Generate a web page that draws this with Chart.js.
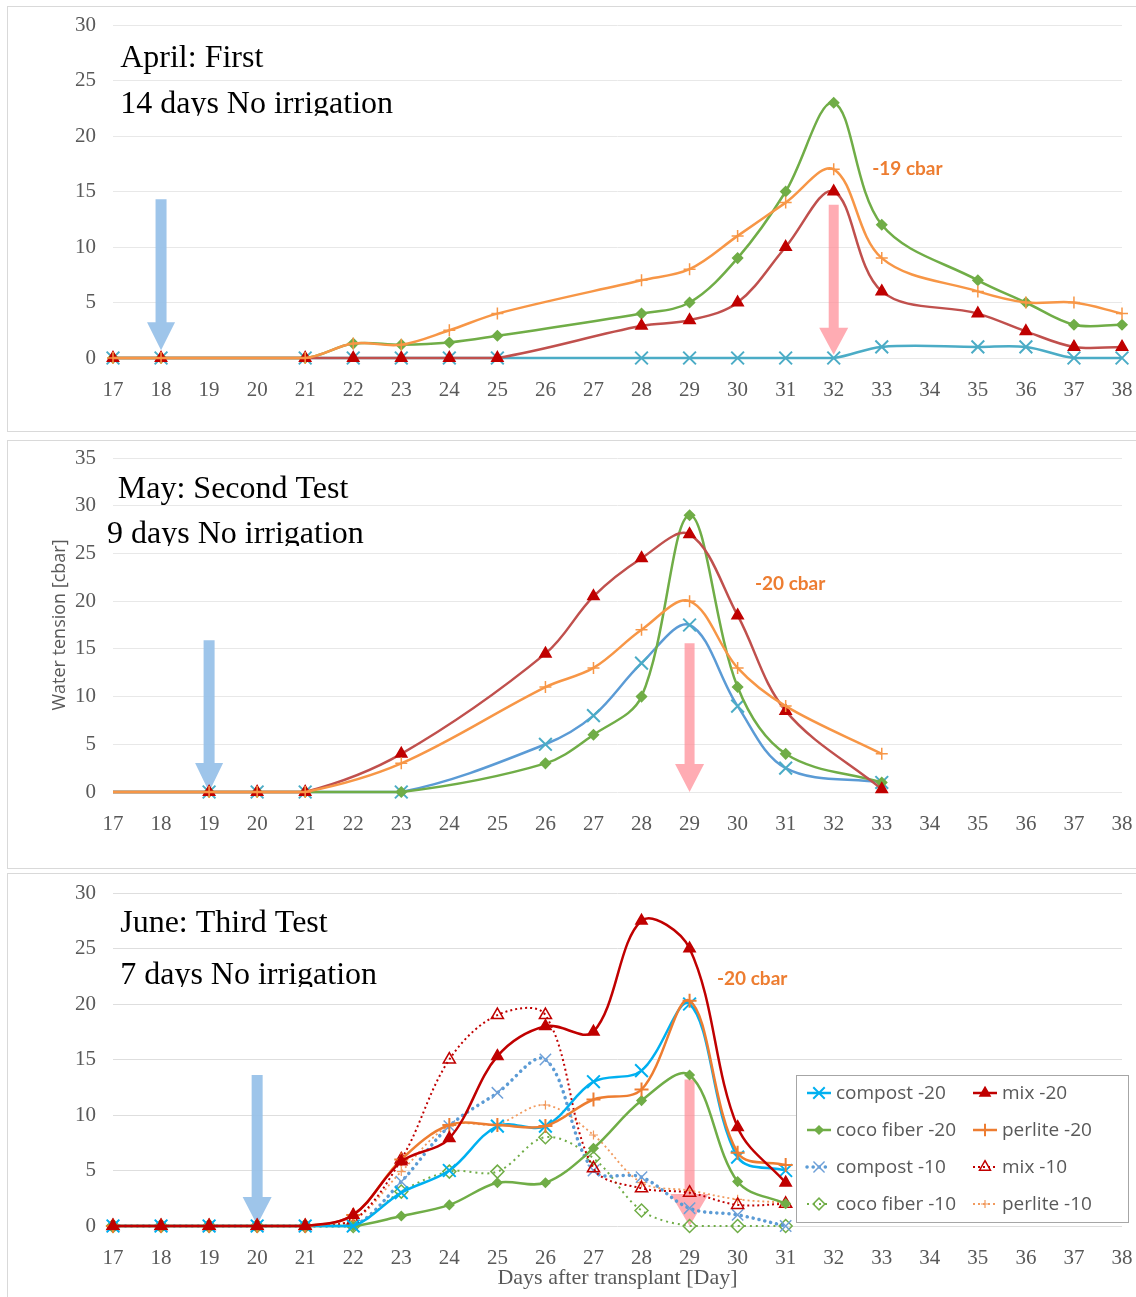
<!DOCTYPE html>
<html lang="en">
<head>
<meta charset="utf-8">
<title>Water tension after transplant</title>
<script src="https://cdn.jsdelivr.net/npm/chart.js@4.4.1/dist/chart.umd.min.js"></script>
<style>
  html, body { margin: 0; padding: 0; background: #fff; }
  body { position: relative; width: 1136px; height: 1297px; overflow: hidden; }
  .frame { position: absolute; left: 7px; width: 1140px; border: 1px solid #d9d9d9; box-sizing: border-box; }
  canvas { position: absolute; left: 0; }
</style>
</head>
<body>
<div class="frame" style="top:6px;height:426px"></div>
<div class="frame" style="top:440px;height:429px"></div>
<div class="frame" style="top:873px;height:430px"></div>
<canvas id="april" width="1136" height="433" style="top:0"></canvas>
<canvas id="may" width="1136" height="428" style="top:440px"></canvas>
<canvas id="june" width="1136" height="424" style="top:873px"></canvas>
<script>
// 横轴范围（移栽后天数）
const dayMin = 17;
const dayMax = 38;

// 4月：第一次试验
const aprilDays = [17, 18, 21, 22, 23, 24, 25, 28, 29, 30, 31, 32, 33, 35, 36, 37, 38];
const aprilCompost = [0, 0, 0, 0, 0, 0, 0, 0, 0, 0, 0, 0, 1, 1, 1, 0, 0];
const aprilCoco = [0, 0, 0, 1.3, 1.2, 1.4, 2, 4, 5, 9, 15, 23, 12, 7, 5, 3, 3];
const aprilMix = [0, 0, 0, 0, 0, 0, 0, 2.9, 3.4, 5, 10, 15, 6, 4, 2.4, 1, 1];
const aprilPerlite = [0, 0, 0, 1.3, 1.2, 2.5, 4, 7, 8, 11, 14, 17, 9, 6, 5, 5, 4];

// 5月：第二次试验
const mayDays = [17, 19, 20, 21, 23, 26, 27, 28, 29, 30, 31, 33];
const mayCompost = [0, 0, 0, 0, 0, 5, 8, 13.5, 17.5, 9, 2.5, 1];
const mayCoco = [0, 0, 0, 0, 0, 3, 6, 10, 29, 11, 4, 1];
const mayMix = [0, 0, 0, 0, 4, 14.5, 20.5, 24.5, 27, 18.5, 8.5, 0.3];
const mayPerlite = [0, 0, 0, 0, 3, 11, 13, 17, 20, 13, 9, 4];

// 6月：第三次试验
const juneDays = [17, 18, 19, 20, 21, 22, 23, 24, 25, 26, 27, 28, 29, 30, 31];
const juneCompost20 = [0, 0, 0, 0, 0, 0, 3, 5, 9, 9, 13, 14, 20, 6.2, 5];
const juneMix20 = [0, 0, 0, 0, 0, 1, 5.8, 7.9, 15.3, 18, 17.5, 27.5, 25, 8.9, 3.9];
const juneCoco20 = [0, 0, 0, 0, 0, 0, 0.9, 1.9, 3.9, 3.9, 7, 11.3, 13.6, 4, 2];
const junePerlite20 = [0, 0, 0, 0, 0, 1, 6, 9.1, 9.1, 9, 11.4, 12.3, 20.3, 6.6, 5.5];
const juneCompost10 = [0, 0, 0, 0, 0, 0, 4, 9, 12, 15, 5, 4.4, 1.6, 1, 0];
const juneMix10 = [0, 0, 0, 0, 0, 0.5, 6, 15, 19, 19, 5.2, 3.4, 3, 1.9, 2];
const juneCoco10 = [0, 0, 0, 0, 0, 0, 3.1, 4.9, 4.9, 8, 6.1, 1.4, 0, 0, 0];
const junePerlite10 = [0, 0, 0, 0, 0, 0.5, 4.9, 9, 9.2, 10.9, 8.2, 3.9, 3.2, 2.4, 2.1];

const SERIF = '"Liberation Serif", "Times New Roman", serif';
const SANS = '"Open Sans", "Noto Sans", sans-serif';
const GREY = '#595959';

function points(days, values) {
    return days.map((d, i) => ({ x: d, y: values[i] }));
}

// 生成一条折线的数据集
function series(label, days, values, s) {
    const r = s.radius;
    return {
        label: label,
        data: points(days, values),
        borderColor: s.line,
        borderWidth: s.width || 2.5,
        borderDash: s.dash || [],
        borderCapStyle: s.cap || 'butt',
        pointStyle: s.marker,
        pointRadius: s.markFrom ? (c => (c.raw && c.raw.x < s.markFrom ? 0 : r)) : r,
        legendRadius: r,
        pointBorderColor: s.markerColor || s.line,
        pointBackgroundColor: s.fill || s.markerColor || s.line,
        pointBorderWidth: s.markerWidth || 1.5,
        tension: 0.35,
        clip: false,
        order: s.order || 0
    };
}

// 箭头、文字、图例
const decorPlugin = {
    id: 'decor',
    beforeDatasetsDraw(chart, args, opts) {
        const { ctx } = chart;
        const x = chart.scales.x, y = chart.scales.y;
        (opts.arrows || []).forEach(a => {
            const cx = x.getPixelForValue(a.x);
            const top = y.getPixelForValue(a.top);
            const tip = y.getPixelForValue(a.tip);
            const neck = tip - a.headH;
            ctx.save();
            ctx.fillStyle = a.color;
            ctx.beginPath();
            ctx.moveTo(cx - a.shaft / 2, top);
            ctx.lineTo(cx + a.shaft / 2, top);
            ctx.lineTo(cx + a.shaft / 2, neck);
            ctx.lineTo(cx + a.headW / 2, neck);
            ctx.lineTo(cx, tip);
            ctx.lineTo(cx - a.headW / 2, neck);
            ctx.lineTo(cx - a.shaft / 2, neck);
            ctx.closePath();
            ctx.fill();
            ctx.restore();
        });
    },
    afterDraw(chart, args, opts) {
        const { ctx, chartArea } = chart;
        const x = chart.scales.x, y = chart.scales.y;
        (opts.notes || []).forEach(n => {
            const px = x.getPixelForValue(n.x);
            const py = y.getPixelForValue(n.y);
            ctx.save();
            if (n.cut) {
                ctx.beginPath();
                ctx.rect(0, 0, chart.width, py + n.cut);
                ctx.clip();
            }
            ctx.font = n.font;
            ctx.fillStyle = n.color;
            ctx.textAlign = 'left';
            ctx.textBaseline = 'alphabetic';
            ctx.fillText(n.text, px, py);
            ctx.restore();
        });

        const lg = opts.legend;
        if (!lg) return;
        const left = chartArea.right + lg.overRight - lg.width;
        const top = chartArea.bottom - lg.overBottom - lg.height;
        ctx.save();
        ctx.fillStyle = '#ffffff';
        ctx.fillRect(left, top, lg.width, lg.height);
        ctx.strokeStyle = '#a6a6a6';
        ctx.lineWidth = 1;
        ctx.strokeRect(left + 0.5, top + 0.5, lg.width, lg.height);
        chart.data.datasets.forEach((ds, i) => {
            const row = Math.floor(i / 2), col = i % 2;
            const sx = left + lg.colX[col];
            const cy = top + lg.firstRow + row * lg.rowGap;
            ctx.save();
            ctx.strokeStyle = ds.borderColor;
            ctx.lineWidth = ds.borderWidth;
            ctx.lineCap = ds.borderCapStyle;
            ctx.setLineDash(ds.borderDash);
            ctx.beginPath();
            ctx.moveTo(sx, cy);
            ctx.lineTo(sx + lg.sample, cy);
            ctx.stroke();
            ctx.setLineDash([]);
            ctx.fillStyle = ds.pointBackgroundColor;
            ctx.strokeStyle = ds.pointBorderColor;
            ctx.lineWidth = ds.pointBorderWidth;
            if (Chart.helpers && Chart.helpers.drawPoint) {
                Chart.helpers.drawPoint(ctx, {
                    pointStyle: ds.pointStyle,
                    radius: ds.legendRadius * 0.9,
                    rotation: 0,
                    borderWidth: ds.pointBorderWidth
                }, sx + lg.sample / 2, cy);
            }
            ctx.restore();
            ctx.font = lg.font;
            ctx.fillStyle = GREY;
            ctx.textAlign = 'left';
            ctx.textBaseline = 'middle';
            ctx.fillText(ds.label, sx + lg.sample + lg.textGap, cy + 1);
        });
        ctx.restore();
    }
};

function makePanel(id, cfg) {
    const yAxis = {
        min: 0,
        max: cfg.yMax,
        ticks: { stepSize: 5, padding: 17, color: GREY, font: { family: SERIF, size: 21 } },
        grid: { color: cfg.gridColor || '#e8e8e8', drawTicks: false },
        border: { display: false },
        afterFit: s => { s.width = 113; s.paddingTop = 0; s.paddingBottom = 0; }
    };
    if (cfg.yTitle) {
        yAxis.title = {
            display: true,
            text: cfg.yTitle,
            color: GREY,
            font: { family: SANS, size: 18 },
            padding: { top: 49, bottom: 0 }
        };
    }
    const xAxis = {
        type: 'linear',
        min: dayMin,
        max: dayMax,
        ticks: { stepSize: 1, padding: 12, color: GREY, autoSkip: false, maxRotation: 0, font: { family: SERIF, size: 21 } },
        grid: { display: false },
        border: { display: false },
        afterFit: s => { s.height = cfg.xHeight; s.paddingLeft = 0; s.paddingRight = 0; }
    };
    if (cfg.xTitle) {
        xAxis.title = {
            display: true,
            text: cfg.xTitle,
            color: GREY,
            font: { family: SERIF, size: 22 },
            padding: { top: 0, bottom: 6 }
        };
    }
    return new Chart(document.getElementById(id), {
        type: 'line',
        data: { datasets: cfg.datasets },
        options: {
            responsive: false,
            animation: false,
            events: [],
            layout: { padding: { top: cfg.padTop, right: 14, left: 0, bottom: 0 } },
            scales: { x: xAxis, y: yAxis },
            plugins: {
                legend: { display: false },
                tooltip: { enabled: false },
                decor: cfg.decor
            }
        },
        plugins: [decorPlugin]
    });
}

const BLUE_ARROW = 'rgba(150, 192, 232, 0.92)';
const PINK_ARROW = 'rgba(255, 140, 150, 0.72)';
const CBAR = 'bold 19px Lato, "Open Sans", sans-serif';
const TITLE = '32px ' + SERIF;

// 4月
makePanel('april', {
    yMax: 30,
    padTop: 25,
    xHeight: 75,
    datasets: [
        series('compost', aprilDays, aprilCompost, { line: '#4bacc6', marker: 'crossRot', radius: 9, markerWidth: 2, order: 3 }),
        series('coco fiber', aprilDays, aprilCoco, { line: '#70ad47', marker: 'rectRot', radius: 5, order: 2 }),
        series('mix', aprilDays, aprilMix, { line: '#c0504d', markerColor: '#c00000', marker: 'triangle', radius: 6.5, order: 1 }),
        series('perlite', aprilDays, aprilPerlite, { line: '#f79646', marker: 'cross', radius: 6, order: 0 })
    ],
    decor: {
        arrows: [
            { x: 18, top: 14.3, tip: 0.7, shaft: 11, headW: 28, headH: 28, color: BLUE_ARROW },
            { x: 32, top: 13.8, tip: 0.3, shaft: 10, headW: 29, headH: 27, color: PINK_ARROW }
        ],
        notes: [
            { text: 'April: First', x: 17.15, y: 26.2, font: TITLE, color: '#000' },
            { text: '14 days No irrigation', x: 17.15, y: 22.1, font: TITLE, color: '#000', cut: 3 },
            { text: '-19 cbar', x: 32.8, y: 16.5, font: CBAR, color: '#ed7d31' }
        ]
    }
});

// 5月
makePanel('may', {
    yMax: 35,
    padTop: 18,
    xHeight: 76,
    yTitle: 'Water tension [cbar]',
    datasets: [
        series('compost', mayDays, mayCompost, { line: '#5b9bd5', markerColor: '#4bacc6', marker: 'crossRot', radius: 9, markerWidth: 2, markFrom: 19, order: 3 }),
        series('coco fiber', mayDays, mayCoco, { line: '#70ad47', marker: 'rectRot', radius: 5, markFrom: 19, order: 2 }),
        series('mix', mayDays, mayMix, { line: '#c0504d', markerColor: '#c00000', marker: 'triangle', radius: 6.5, markFrom: 19, order: 1 }),
        series('perlite', mayDays, mayPerlite, { line: '#f79646', marker: 'cross', radius: 6, markFrom: 19, order: 0 })
    ],
    decor: {
        arrows: [
            { x: 19, top: 15.9, tip: 0, shaft: 11, headW: 28, headH: 29, color: BLUE_ARROW },
            { x: 29, top: 15.6, tip: 0, shaft: 10, headW: 29, headH: 28, color: PINK_ARROW }
        ],
        notes: [
            { text: 'May: Second Test', x: 17.1, y: 30.8, font: TITLE, color: '#000' },
            { text: '9 days No irrigation', x: 16.875, y: 26.1, font: TITLE, color: '#000', cut: 3 },
            { text: '-20 cbar', x: 30.36, y: 21.2, font: CBAR, color: '#ed7d31' }
        ]
    }
});

// 6月
makePanel('june', {
    yMax: 30,
    padTop: 20,
    xHeight: 71,
    gridColor: '#dedede',
    xTitle: 'Days after transplant [Day]',
    datasets: [
        series('compost -20', juneDays, juneCompost20, { line: '#00b0f0', marker: 'crossRot', radius: 9, markerWidth: 2, order: 2 }),
        series('mix -20', juneDays, juneMix20, { line: '#c00000', marker: 'triangle', radius: 6.5, order: 0 }),
        series('coco fiber -20', juneDays, juneCoco20, { line: '#70ad47', marker: 'rectRot', radius: 4.5, order: 3 }),
        series('perlite -20', juneDays, junePerlite20, { line: '#ed7d31', marker: 'cross', radius: 7, markerWidth: 2, order: 1 }),
        series('compost -10', juneDays, juneCompost10, { line: '#5b9bd5', markerColor: '#6fa0d8', dash: [0.1, 6], cap: 'round', width: 3.5, marker: 'crossRot', radius: 8, order: 5 }),
        series('mix -10', juneDays, juneMix10, { line: '#c00000', fill: 'rgba(255,255,255,0)', dash: [2, 3], width: 2, marker: 'triangle', radius: 7, order: 4 }),
        series('coco fiber -10', juneDays, juneCoco10, { line: '#70ad47', fill: 'rgba(255,255,255,0)', dash: [2, 4], width: 2, marker: 'rectRot', radius: 6.5, order: 7 }),
        series('perlite -10', juneDays, junePerlite10, { line: '#f19a5e', dash: [2, 3], width: 1.8, marker: 'cross', radius: 4.5, markerWidth: 1.2, order: 6 })
    ],
    decor: {
        arrows: [
            { x: 20, top: 13.6, tip: 0.1, shaft: 11, headW: 29, headH: 28, color: BLUE_ARROW },
            { x: 29, top: 13.2, tip: 0, shaft: 10, headW: 38, headH: 32, color: PINK_ARROW }
        ],
        notes: [
            { text: 'June: Third Test', x: 17.15, y: 26.5, font: TITLE, color: '#000' },
            { text: '7 days No irrigation', x: 17.15, y: 21.8, font: TITLE, color: '#000', cut: 3 },
            { text: '-20 cbar', x: 29.57, y: 21.7, font: CBAR, color: '#ed7d31' }
        ],
        legend: {
            width: 332, height: 147, overRight: 6, overBottom: 4,
            colX: [11, 177], firstRow: 18, rowGap: 37, sample: 24, textGap: 5,
            font: '19px ' + SANS
        }
    }
});
</script>
</body>
</html>
